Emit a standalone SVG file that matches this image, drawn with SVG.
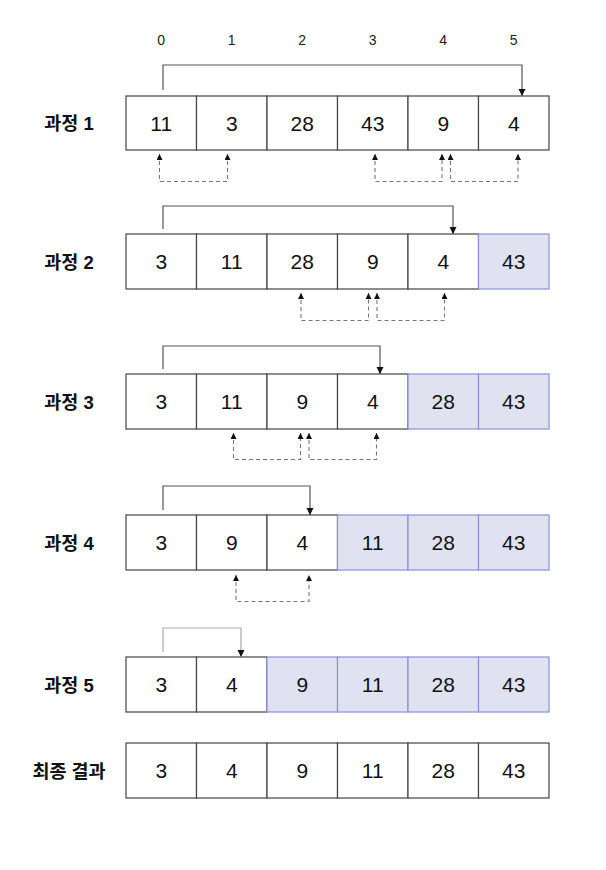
<svg xmlns="http://www.w3.org/2000/svg" width="606" height="870" viewBox="0 0 606 870">
<style>
  .cell { fill: #ffffff; stroke: #444; stroke-width: 1.2; }
  .done { fill: #e1e2f1; stroke: #8b8fdc; stroke-width: 1.2; }
  .num { font-family: "Liberation Sans", Arial, sans-serif; font-size: 21px; fill: #111; text-anchor: middle; }
  .idx { font-family: "Liberation Sans", Arial, sans-serif; font-size: 14px; fill: #222; text-anchor: middle; }
  .lbl { font-family: "Liberation Sans", "Noto Sans CJK KR", sans-serif; font-size: 18.5px; font-weight: bold; fill: #111; text-anchor: middle; }
  .br { fill: none; stroke: #555; stroke-width: 1.2; }
  .br5 { fill: none; stroke: #aaa; stroke-width: 1.2; }
  .dash { fill: none; stroke: #777; stroke-width: 1.1; stroke-dasharray: 4 3; }
</style>
<defs>
  <marker id="ah" markerUnits="userSpaceOnUse" markerWidth="8" markerHeight="8" refX="7" refY="3.5" orient="auto">
    <path d="M0,0 L7,3.5 L0,7 z" fill="#111"/>
  </marker>
  <marker id="ahs" markerUnits="userSpaceOnUse" markerWidth="8" markerHeight="8" refX="6" refY="3" orient="auto-start-reverse">
    <path d="M0,0 L6,3 L0,6 z" fill="#111"/>
  </marker>
</defs>

<g id="indices">
  <text class="idx" x="161.25" y="45">0</text>
  <text class="idx" x="231.75" y="45">1</text>
  <text class="idx" x="302.25" y="45">2</text>
  <text class="idx" x="372.75" y="45">3</text>
  <text class="idx" x="443.25" y="45">4</text>
  <text class="idx" x="513.75" y="45">5</text>
</g>

<g id="labels">
  <text class="lbl" x="69" y="130">과정 1</text>
  <text class="lbl" x="69" y="268.5">과정 2</text>
  <text class="lbl" x="69" y="408.5">과정 3</text>
  <text class="lbl" x="69" y="549.5">과정 4</text>
  <text class="lbl" x="69" y="691.5">과정 5</text>
  <text class="lbl" x="69" y="777.5">최종 결과</text>
</g>

<g id="row1">
  <g id="r1c0"><rect class="cell" x="126" y="96" width="70.5" height="54"/><text class="num" x="161.25" y="130.5">11</text></g>
  <g id="r1c1"><rect class="cell" x="196.5" y="96" width="70.5" height="54"/><text class="num" x="231.75" y="130.5">3</text></g>
  <g id="r1c2"><rect class="cell" x="267" y="96" width="70.5" height="54"/><text class="num" x="302.25" y="130.5">28</text></g>
  <g id="r1c3"><rect class="cell" x="337.5" y="96" width="70.5" height="54"/><text class="num" x="372.75" y="130.5">43</text></g>
  <g id="r1c4"><rect class="cell" x="408" y="96" width="70.5" height="54"/><text class="num" x="443.25" y="130.5">9</text></g>
  <g id="r1c5"><rect class="cell" x="478.5" y="96" width="70.5" height="54"/><text class="num" x="513.75" y="130.5">4</text></g>
</g>

<g id="row2">
  <g id="r2c0"><rect class="cell" x="126" y="234" width="70.5" height="55"/><text class="num" x="161.25" y="269">3</text></g>
  <g id="r2c1"><rect class="cell" x="196.5" y="234" width="70.5" height="55"/><text class="num" x="231.75" y="269">11</text></g>
  <g id="r2c2"><rect class="cell" x="267" y="234" width="70.5" height="55"/><text class="num" x="302.25" y="269">28</text></g>
  <g id="r2c3"><rect class="cell" x="337.5" y="234" width="70.5" height="55"/><text class="num" x="372.75" y="269">9</text></g>
  <g id="r2c4"><rect class="cell" x="408" y="234" width="70.5" height="55"/><text class="num" x="443.25" y="269">4</text></g>
  <g id="r2c5"><rect class="done" x="478.5" y="234" width="70.5" height="55"/><text class="num" x="513.75" y="269">43</text></g>
</g>

<g id="row3">
  <g id="r3c0"><rect class="cell" x="126" y="374" width="70.5" height="55"/><text class="num" x="161.25" y="409">3</text></g>
  <g id="r3c1"><rect class="cell" x="196.5" y="374" width="70.5" height="55"/><text class="num" x="231.75" y="409">11</text></g>
  <g id="r3c2"><rect class="cell" x="267" y="374" width="70.5" height="55"/><text class="num" x="302.25" y="409">9</text></g>
  <g id="r3c3"><rect class="cell" x="337.5" y="374" width="70.5" height="55"/><text class="num" x="372.75" y="409">4</text></g>
  <g id="r3c4"><rect class="done" x="408" y="374" width="70.5" height="55"/><text class="num" x="443.25" y="409">28</text></g>
  <g id="r3c5"><rect class="done" x="478.5" y="374" width="70.5" height="55"/><text class="num" x="513.75" y="409">43</text></g>
</g>

<g id="row4">
  <g id="r4c0"><rect class="cell" x="126" y="515" width="70.5" height="55"/><text class="num" x="161.25" y="550">3</text></g>
  <g id="r4c1"><rect class="cell" x="196.5" y="515" width="70.5" height="55"/><text class="num" x="231.75" y="550">9</text></g>
  <g id="r4c2"><rect class="cell" x="267" y="515" width="70.5" height="55"/><text class="num" x="302.25" y="550">4</text></g>
  <g id="r4c3"><rect class="done" x="337.5" y="515" width="70.5" height="55"/><text class="num" x="372.75" y="550">11</text></g>
  <g id="r4c4"><rect class="done" x="408" y="515" width="70.5" height="55"/><text class="num" x="443.25" y="550">28</text></g>
  <g id="r4c5"><rect class="done" x="478.5" y="515" width="70.5" height="55"/><text class="num" x="513.75" y="550">43</text></g>
</g>

<g id="row5">
  <g id="r5c0"><rect class="cell" x="126" y="657" width="70.5" height="55"/><text class="num" x="161.25" y="692">3</text></g>
  <g id="r5c1"><rect class="cell" x="196.5" y="657" width="70.5" height="55"/><text class="num" x="231.75" y="692">4</text></g>
  <g id="r5c2"><rect class="done" x="267" y="657" width="70.5" height="55"/><text class="num" x="302.25" y="692">9</text></g>
  <g id="r5c3"><rect class="done" x="337.5" y="657" width="70.5" height="55"/><text class="num" x="372.75" y="692">11</text></g>
  <g id="r5c4"><rect class="done" x="408" y="657" width="70.5" height="55"/><text class="num" x="443.25" y="692">28</text></g>
  <g id="r5c5"><rect class="done" x="478.5" y="657" width="70.5" height="55"/><text class="num" x="513.75" y="692">43</text></g>
</g>

<g id="final">
  <g id="fc0"><rect class="cell" x="126" y="743" width="70.5" height="55"/><text class="num" x="161.25" y="778">3</text></g>
  <g id="fc1"><rect class="cell" x="196.5" y="743" width="70.5" height="55"/><text class="num" x="231.75" y="778">4</text></g>
  <g id="fc2"><rect class="cell" x="267" y="743" width="70.5" height="55"/><text class="num" x="302.25" y="778">9</text></g>
  <g id="fc3"><rect class="cell" x="337.5" y="743" width="70.5" height="55"/><text class="num" x="372.75" y="778">11</text></g>
  <g id="fc4"><rect class="cell" x="408" y="743" width="70.5" height="55"/><text class="num" x="443.25" y="778">28</text></g>
  <g id="fc5"><rect class="cell" x="478.5" y="743" width="70.5" height="55"/><text class="num" x="513.75" y="778">43</text></g>
</g>

<g id="connectors">
  <path class="br" d="M163,90 V65 H522 V96" marker-end="url(#ah)"/>
  <path class="br" d="M163,229 V206 H453 V234" marker-end="url(#ah)"/>
  <path class="br" d="M163,369 V346 H380 V374" marker-end="url(#ah)"/>
  <path class="br" d="M163,510 V486 H310 V515" marker-end="url(#ah)"/>
  <path class="br5" d="M163,652 V628 H241 V657" marker-end="url(#ah)"/>

  <path class="dash" d="M159.5,154 V181.5 H227.5 V154" marker-start="url(#ahs)" marker-end="url(#ahs)"/>
  <path class="dash" d="M375,154 V181.5 H442 V154" marker-start="url(#ahs)" marker-end="url(#ahs)"/>
  <path class="dash" d="M450.5,154 V181.5 H518 V154" marker-start="url(#ahs)" marker-end="url(#ahs)"/>

  <path class="dash" d="M301,293 V320.5 H368.5 V293" marker-start="url(#ahs)" marker-end="url(#ahs)"/>
  <path class="dash" d="M377,293 V320.5 H444.5 V293" marker-start="url(#ahs)" marker-end="url(#ahs)"/>

  <path class="dash" d="M233.5,433 V459.5 H300.5 V433" marker-start="url(#ahs)" marker-end="url(#ahs)"/>
  <path class="dash" d="M309,433 V459.5 H376.5 V433" marker-start="url(#ahs)" marker-end="url(#ahs)"/>

  <path class="dash" d="M236,575 V601.5 H309 V575" marker-start="url(#ahs)" marker-end="url(#ahs)"/>
</g>
</svg>
